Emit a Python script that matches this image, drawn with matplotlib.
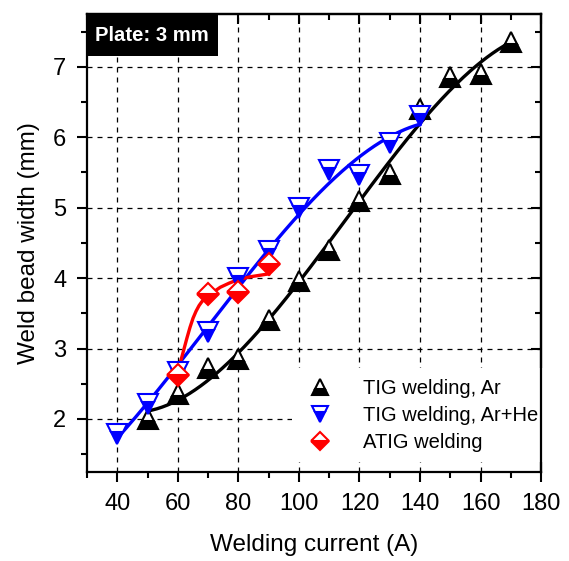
import numpy as np
import matplotlib
matplotlib.use('Agg')
import matplotlib.pyplot as plt
from matplotlib.lines import Line2D
from matplotlib.patches import Rectangle

plt.rcParams['font.family'] = ['Liberation Sans', 'DejaVu Sans']

# TIG welding, Ar
ar_current = [50, 60, 70, 80, 90, 100, 110, 120, 130, 140, 150, 160, 170]
ar_width = [2.00, 2.35, 2.73, 2.85, 3.40, 3.96, 4.40, 5.10, 5.48, 6.40, 6.86, 6.90, 7.35]

# TIG welding, Ar+He
arhe_current = [40, 50, 60, 70, 80, 90, 100, 110, 120, 130, 140]
arhe_width = [1.79, 2.21, 2.67, 3.23, 4.00, 4.38, 5.00, 5.53, 5.46, 5.92, 6.30]

# ATIG welding
atig_current = [60, 70, 80, 90]
atig_width = [2.62, 3.77, 3.80, 4.20]

# ATIG fitted curve
atig_fit_x = [60, 61, 62, 63, 64, 65, 66, 67, 68, 70, 72, 74, 77, 80, 84, 87, 90]
atig_fit_y = [2.64, 2.83, 2.99, 3.15, 3.30, 3.43, 3.53, 3.61, 3.67, 3.75, 3.81, 3.87, 3.93, 3.98, 4.02, 4.04, 4.06]

fig = plt.figure(figsize=(5.69, 5.61), dpi=100)
ax = fig.add_axes([0.153, 0.159, 0.798, 0.816])

# cubic fits through the measured points
xa = np.linspace(50, 170, 200)
ax.plot(xa, np.polyval(np.polyfit(ar_current, ar_width, 3), xa), color='black', lw=2.4, zorder=3)
xb = np.linspace(40, 140, 200)
ax.plot(xb, np.polyval(np.polyfit(arhe_current, arhe_width, 3), xb), color='#0000ff', lw=2.4, zorder=3)
ax.plot(atig_fit_x, atig_fit_y, color='#ff0000', lw=2.4, zorder=3)

mk = dict(ls='none', markeredgewidth=1.5, fillstyle='bottom',
          markerfacecoloralt='white', zorder=4)
ax.plot(ar_current, ar_width, marker='^', color='black', markersize=14.5, **mk)
ax.plot(arhe_current, arhe_width, marker='v', color='#0000ff', markersize=14.5, **mk)
ax.plot(atig_current, atig_width, marker='D', color='#ff0000', markersize=11.5, **mk)

ax.set_xlim(30, 180)
ax.set_ylim(1.25, 7.75)
ax.set_xticks(np.arange(40, 181, 20))
ax.set_xticks(np.arange(30, 181, 10), minor=True)
ax.set_yticks(np.arange(2, 8, 1))
ax.set_yticks(np.arange(1.5, 7.8, 0.5), minor=True)

ax.grid(True, which='major', color='black', ls=(0, (4, 4)), lw=0.9, zorder=0)
ax.set_axisbelow(True)

for s in ax.spines.values():
    s.set_linewidth(1.6)
ax.tick_params(which='both', direction='out', width=1.5, labelsize=17)
ax.tick_params(axis='x', which='both', pad=8)
ax.tick_params(axis='y', which='both', pad=8)
ax.tick_params(which='major', length=7)
ax.tick_params(which='minor', length=4.5)

# mirrored inward ticks on top and right
for side in ('top', 'right'):
    sec = ax.secondary_xaxis('top') if side == 'top' else ax.secondary_yaxis('right')
    if side == 'top':
        sec.set_xticks(np.arange(40, 181, 20))
        sec.set_xticks(np.arange(30, 181, 10), minor=True)
    else:
        sec.set_yticks(np.arange(2, 8, 1))
        sec.set_yticks(np.arange(1.5, 7.8, 0.5), minor=True)
    sec.tick_params(which='both', direction='in', width=1.5, labelsize=0,
                    labeltop=False, labelright=False)
    sec.tick_params(which='major', length=7)
    sec.tick_params(which='minor', length=4.5)
    for s in sec.spines.values():
        s.set_linewidth(1.6)

ax.set_xlabel('Welding current (A)', fontsize=17.5, labelpad=14)
ax.set_ylabel('Weld bead width (mm)', fontsize=17.5, labelpad=9)

handles = [
    Line2D([], [], marker='^', color='black', ls='none', markersize=11, markeredgewidth=1.5,
           fillstyle='bottom', markerfacecoloralt='white'),
    Line2D([], [], marker='v', color='#0000ff', ls='none', markersize=11, markeredgewidth=1.5,
           fillstyle='bottom', markerfacecoloralt='white'),
    Line2D([], [], marker='D', color='#ff0000', ls='none', markersize=9, markeredgewidth=1.5,
           fillstyle='bottom', markerfacecoloralt='white'),
]
labels = ['TIG welding, Ar', 'TIG welding, Ar+He', 'ATIG welding']
leg = ax.legend(handles, labels, loc='lower left', bbox_to_anchor=(0.452, 0.022),
                borderaxespad=0, fontsize=14.5, frameon=True, fancybox=False,
                framealpha=1, facecolor='white', edgecolor='none',
                handlelength=1.8, handletextpad=1.2, labelspacing=0.4, borderpad=0.5)
leg.set_zorder(2)

ax.add_patch(Rectangle((0, 0.908), 0.289, 0.092, transform=ax.transAxes,
                       facecolor='black', edgecolor='none', zorder=5, clip_on=False))
ax.text(0.143, 0.954, 'Plate: 3 mm', transform=ax.transAxes, color='white',
        fontsize=14.6, fontweight='bold', ha='center', va='center', zorder=6)

fig.savefig('out.png', dpi=100)
